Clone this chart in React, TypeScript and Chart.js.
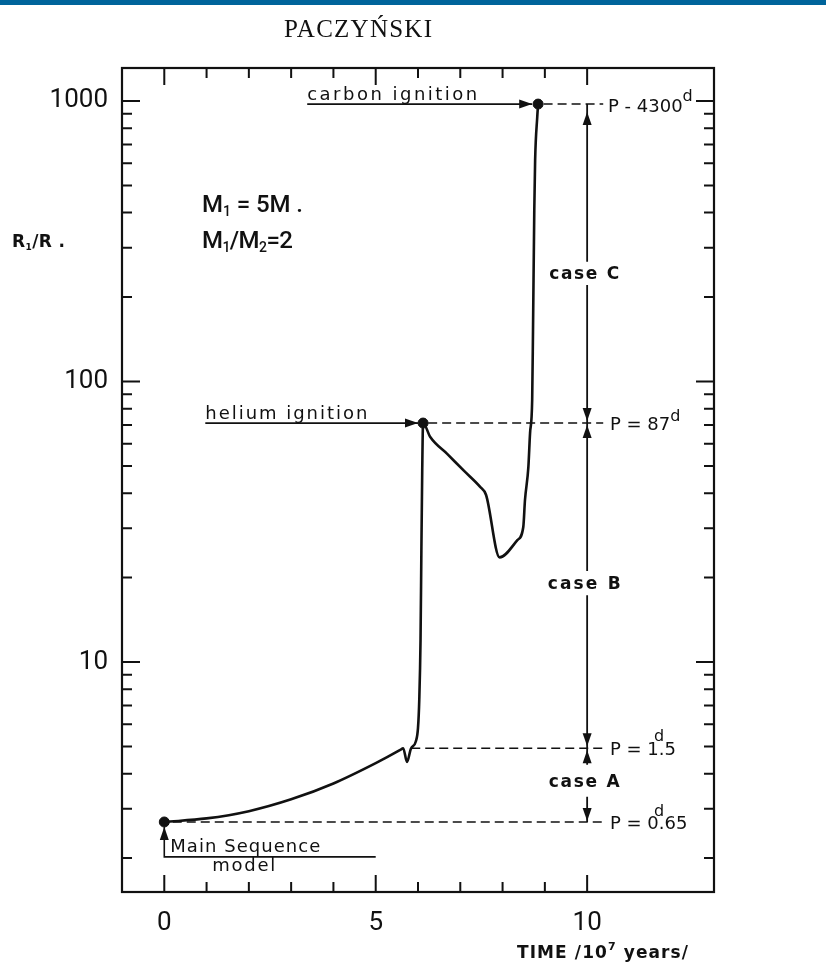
import React, { useEffect, useRef } from 'react';
import { Chart, registerables } from 'chart.js';

Chart.register(...registerables);

// ---- data (time in 10^7 years, radius R1/Rsun) ----
const timeValues = [
  0, 1.0, 2.0, 3.0, 4.0, 5.0, 5.58, 5.65, 5.74, 5.83, 5.95, 6.0, 6.03, 6.06, 6.08, 6.1, 6.12,
  6.29, 6.69, 7.09, 7.47, 7.61, 7.93, 8.35, 8.49, 8.53, 8.61, 8.65, 8.7, 8.72, 8.75, 8.77, 8.82, 8.84,
];
const radiusValues = [
  2.69, 2.77, 2.94, 3.24, 3.69, 4.36, 4.86, 4.93, 4.4, 4.9, 5.22, 5.82, 7.33, 12.0, 25, 48.3, 71.1,
  63.4, 55.2, 48.0, 42.1, 39.4, 23.6, 27.2, 30.3, 37.8, 49.5, 65.5, 85.9, 153, 408, 616, 877, 975,
];

const markerTimes = [0, 6.12, 8.84];
const markerRadii = [2.69, 71.1, 975];

const xMajorTicks = [0, 5, 10];
const xMinorTicks = [0, 1, 2, 3, 4, 5, 6, 7, 8, 9, 10];
const yMajorTicks = [10, 100, 1000];
const yMinorTicks = [2, 3, 4, 5, 6, 7, 8, 9, 20, 30, 40, 50, 60, 70, 80, 90, 200, 300, 400, 500, 600, 700, 800, 900];

// orbital-period levels (radius at which Roche lobe is filled)
const periodLevels = [2.69, 4.93, 71.1, 975];
const periodDashStart = [0.2, 5.84, 6.24, 8.97];
const periodDashEnd = 10.38;
const periodLabelX = 10.54;

const caseNames = ['case A', 'case B', 'case C'];
const caseX = 10;
const caseTop = [4.93, 71.1, 975];
const caseBottom = [2.69, 4.93, 71.1];
const caseGapHigh = [4.3, 21.1, 267];
const caseGapLow = [3.31, 17.3, 221];

const carbonStartX = 3.38;
const carbonTipX = 8.7;
const heliumStartX = 0.97;
const heliumTipX = 6.0;
const msBracketLevel = 2.02;
const msArrowTip = 2.58;
const msBracketEndX = 5;

const FONT = '"DejaVu Sans", sans-serif';
const INK = '#111';

type Part = { text: string; font: string; dy?: number };

function drawRich(
  ctx: CanvasRenderingContext2D,
  parts: Part[],
  x: number,
  y: number,
  width: number | null,
  align: 'left' | 'center' = 'left'
) {
  const c: any = ctx;
  c.letterSpacing = '0px';
  let total = 0;
  let n = 0;
  const widths = parts.map((p) => {
    ctx.font = p.font;
    const w = ctx.measureText(p.text).width;
    total += w;
    n += p.text.length;
    return w;
  });
  const sp = width != null && n > 1 ? (width - total) / (n - 1) : 0;
  const full = width != null ? width : total;
  let cx = align === 'center' ? x - full / 2 : x;
  ctx.textAlign = 'left';
  ctx.textBaseline = 'alphabetic';
  parts.forEach((p, i) => {
    ctx.font = p.font;
    c.letterSpacing = sp + 'px';
    ctx.fillText(p.text, cx, y + (p.dy || 0));
    cx += widths[i] + sp * p.text.length;
  });
  c.letterSpacing = '0px';
}

function arrowHead(ctx: CanvasRenderingContext2D, x: number, y: number, dir: 'up' | 'down' | 'right') {
  const L = 13;
  const H = 4.5;
  ctx.beginPath();
  if (dir === 'up') {
    ctx.moveTo(x, y);
    ctx.lineTo(x - H, y + L);
    ctx.lineTo(x + H, y + L);
  } else if (dir === 'down') {
    ctx.moveTo(x, y);
    ctx.lineTo(x - H, y - L);
    ctx.lineTo(x + H, y - L);
  } else {
    ctx.moveTo(x, y);
    ctx.lineTo(x - L, y - H);
    ctx.lineTo(x - L, y + H);
  }
  ctx.closePath();
  ctx.fill();
}

const overlayPlugin = {
  id: 'overlay',
  afterDraw(chart: any) {
    const { ctx, chartArea: a } = chart;
    const xs = chart.scales.x;
    const ys = chart.scales.y;
    const px = (v: number) => xs.getPixelForValue(v);
    const py = (v: number) => ys.getPixelForValue(v);
    ctx.save();

    // header bar and running title
    ctx.fillStyle = '#00649b';
    ctx.fillRect(0, 0, chart.width, 5);
    ctx.fillStyle = INK;
    drawRich(ctx, [{ text: 'PACZYŃSKI', font: '25px "Liberation Serif", serif' }], 358, 37, 148, 'center');

    // frame
    ctx.strokeStyle = INK;
    ctx.lineWidth = 2.2;
    ctx.strokeRect(a.left, a.top, a.right - a.left, a.bottom - a.top);

    // inner ticks
    ctx.lineWidth = 2;
    ctx.beginPath();
    xMinorTicks.forEach((v) => {
      const len = xMajorTicks.includes(v) ? 17 : 10;
      const x = px(v);
      ctx.moveTo(x, a.bottom);
      ctx.lineTo(x, a.bottom - len);
      ctx.moveTo(x, a.top);
      ctx.lineTo(x, a.top + len);
    });
    [...yMinorTicks, ...yMajorTicks].forEach((v) => {
      const len = yMajorTicks.includes(v) ? 18 : 10;
      const y = py(v);
      ctx.moveTo(a.left, y);
      ctx.lineTo(a.left + len, y);
      ctx.moveTo(a.right, y);
      ctx.lineTo(a.right - len, y);
    });
    ctx.stroke();

    // arrowheads
    ctx.fillStyle = INK;
    arrowHead(ctx, px(carbonTipX), py(975), 'right');
    arrowHead(ctx, px(heliumTipX), py(71.1), 'right');
    arrowHead(ctx, px(0), py(msArrowTip), 'up');
    const cx = px(caseX);
    arrowHead(ctx, cx, py(caseTop[2]) + 8, 'up');
    arrowHead(ctx, cx, py(caseBottom[2]) - 2, 'down');
    arrowHead(ctx, cx, py(caseTop[1]) + 2, 'up');
    arrowHead(ctx, cx, py(caseBottom[1]) - 2, 'down');
    arrowHead(ctx, cx, py(caseTop[0]) + 2, 'up');
    arrowHead(ctx, cx, py(caseBottom[0]) - 1, 'down');

    // annotation lettering
    const f18 = `18px ${FONT}`;
    drawRich(ctx, [{ text: 'carbon ignition', font: f18 }], px(carbonStartX), py(975) - 4, 170);
    drawRich(ctx, [{ text: 'helium ignition', font: f18 }], px(heliumStartX), py(71.1) - 4, 162);

    const caseWidths = [71, 73, 70];
    caseNames.forEach((name, i) => {
      const yc = (py(caseGapHigh[i]) + py(caseGapLow[i])) / 2;
      drawRich(ctx, [{ text: name, font: `bold 17px ${FONT}` }], cx - 3, yc + 6, caseWidths[i], 'center');
    });

    // period labels
    const lx = px(periodLabelX);
    const fP = `18px ${FONT}`;
    const fd = `16px ${FONT}`;
    drawRich(ctx, [{ text: 'P = 0.65', font: fP }], lx, py(periodLevels[0]) + 7, null);
    drawRich(ctx, [{ text: 'd', font: fd }], lx + 44, py(periodLevels[0]) - 6, null);
    drawRich(ctx, [{ text: 'P = 1.5', font: fP }], lx, py(periodLevels[1]) + 7, null);
    drawRich(ctx, [{ text: 'd', font: fd }], lx + 44, py(periodLevels[1]) - 7, null);
    drawRich(ctx, [{ text: 'P = 87', font: fP }, { text: 'd', font: fd, dy: -9 }], lx, py(periodLevels[2]) + 7, null);
    drawRich(ctx, [{ text: 'P - 4300', font: fP }, { text: 'd', font: fd, dy: -11 }], lx - 2, py(periodLevels[3]) + 8, null);

    // main sequence label
    drawRich(ctx, [{ text: 'Main Sequence', font: f18 }], px(0) + 6, py(msBracketLevel) - 5, 150);
    drawRich(ctx, [{ text: 'model', font: f18 }], px(0) + 48, py(msBracketLevel) + 14, 63);

    // mass labels
    const fM = `500 24px Roboto, sans-serif`;
    const fMs = `500 14px Roboto, sans-serif`;
    drawRich(
      ctx,
      [
        { text: 'M', font: fM },
        { text: '1', font: fMs, dy: 4 },
        { text: ' = 5M .', font: fM },
      ],
      202,
      212,
      101
    );
    drawRich(
      ctx,
      [
        { text: 'M', font: fM },
        { text: '1', font: fMs, dy: 4 },
        { text: '/M', font: fM },
        { text: '2', font: fMs, dy: 4 },
        { text: '=2', font: fM },
      ],
      202,
      248,
      91
    );

    // axis titles
    drawRich(
      ctx,
      [
        { text: 'R', font: `bold 17px ${FONT}` },
        { text: '1', font: `bold 9px ${FONT}`, dy: 3 },
        { text: '/R .', font: `bold 17px ${FONT}` },
      ],
      12,
      247,
      53
    );
    drawRich(
      ctx,
      [
        { text: 'TIME /10', font: `bold 17px ${FONT}` },
        { text: '7', font: `bold 11px ${FONT}`, dy: -8 },
        { text: ' years/', font: `bold 17px ${FONT}` },
      ],
      517,
      958,
      171
    );

    ctx.restore();
  },
};

function seg(points: { x: number; y: number }[], dashed: boolean, width: number) {
  return {
    data: points,
    borderColor: INK,
    backgroundColor: INK,
    borderWidth: width,
    borderDash: dashed ? [9, 5] : [],
    pointRadius: 0,
    tension: 0,
    fill: false,
  };
}

export default function App() {
  const ref = useRef<HTMLCanvasElement>(null);

  useEffect(() => {
    if (!ref.current) return;

    const curve = timeValues.map((t, i) => ({ x: t, y: radiusValues[i] }));
    const markers = markerTimes.map((t, i) => ({ x: t, y: markerRadii[i] }));

    const datasets: any[] = [
      {
        data: curve,
        borderColor: INK,
        borderWidth: 2.6,
        pointRadius: 0,
        cubicInterpolationMode: 'monotone',
        fill: false,
        borderJoinStyle: 'round',
      },
      {
        data: markers,
        showLine: false,
        pointRadius: 5,
        pointBackgroundColor: INK,
        pointBorderColor: INK,
        borderColor: INK,
      },
    ];

    periodLevels.forEach((lvl, i) => {
      datasets.push(seg([{ x: periodDashStart[i], y: lvl }, { x: periodDashEnd, y: lvl }], true, 1.6));
    });
    datasets.push(seg([{ x: carbonStartX, y: 975 }, { x: carbonTipX, y: 975 }], false, 1.8));
    datasets.push(seg([{ x: heliumStartX, y: 71.1 }, { x: heliumTipX, y: 71.1 }], false, 1.8));
    datasets.push(
      seg(
        [
          { x: 0, y: msArrowTip },
          { x: 0, y: msBracketLevel },
          { x: msBracketEndX, y: msBracketLevel },
        ],
        false,
        1.6
      )
    );
    caseNames.forEach((_, i) => {
      datasets.push(seg([{ x: caseX, y: caseTop[i] }, { x: caseX, y: caseGapHigh[i] }], false, 1.8));
      datasets.push(seg([{ x: caseX, y: caseGapLow[i] }, { x: caseX, y: caseBottom[i] }], false, 1.8));
    });

    const chart = new Chart(ref.current, {
      type: 'line',
      data: { datasets },
      plugins: [overlayPlugin],
      options: {
        animation: false,
        responsive: false,
        devicePixelRatio: 1,
        events: [],
        layout: { padding: { left: 0, right: 112, top: 68, bottom: 0 } },
        plugins: { legend: { display: false }, tooltip: { enabled: false } },
        scales: {
          x: {
            type: 'linear',
            min: -1,
            max: 13,
            grid: { display: false, drawTicks: false },
            border: { display: false },
            afterFit: (s: any) => {
              s.height = 75;
            },
            afterBuildTicks: (s: any) => {
              s.ticks = xMajorTicks.map((v) => ({ value: v }));
            },
            ticks: {
              color: INK,
              padding: 16,
              font: { family: 'Roboto', size: 26 },
              callback: (v: any) => String(v),
            },
          },
          y: {
            type: 'logarithmic',
            min: 1.514,
            max: 1311,
            grid: { display: false, drawTicks: false },
            border: { display: false },
            afterFit: (s: any) => {
              s.width = 122;
            },
            afterBuildTicks: (s: any) => {
              s.ticks = yMajorTicks.map((v) => ({ value: v, major: true }));
            },
            ticks: {
              color: INK,
              padding: 14,
              autoSkip: false,
              font: { family: 'Roboto', size: 26 },
              callback: (v: any) => String(v),
            },
          },
        },
      },
    });
    return () => chart.destroy();
  }, []);

  return (
    <div style={{ position: 'absolute', left: 0, top: 0, width: 826, height: 967, background: '#fff' }}>
      <canvas ref={ref} width={826} height={967} style={{ display: 'block', width: 826, height: 967 }} />
    </div>
  );
}
